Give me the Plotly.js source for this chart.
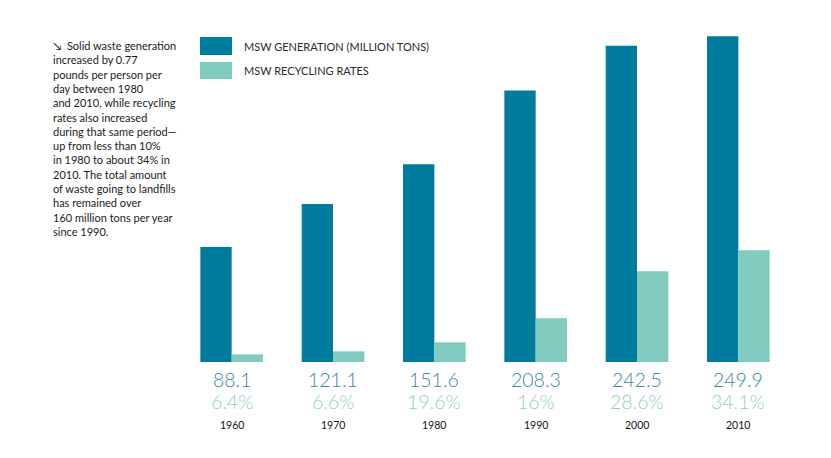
<!DOCTYPE html>
<html>
<head>
<meta charset="utf-8">
<script src="https://cdn.plot.ly/plotly-3.0.1.min.js"></script>
<style>html,body{margin:0;padding:0;background:#fff;}#chart{width:831px;height:458px;}</style>
</head>
<body>
<div id="chart"></div>
<script>
// ---- data ----
const years = ["1960", "1970", "1980", "1990", "2000", "2010"];
const generation = [88.1, 121.1, 151.6, 208.3, 242.5, 249.9];        // million tons
const recycled = [5.9, 8.2, 15.1, 33.5, 69.6, 85.7];                 // million tons (bar heights)
const generationLabels = ["88.1", "121.1", "151.6", "208.3", "242.5", "249.9"];
const rateLabels = ["6.4%", "6.6%", "19.6%", "16%", "28.6%", "34.1%"];
const seriesNames = ["MSW GENERATION (MILLION TONS)", "MSW RECYCLING RATES"];
const noteText = "↘  Solid waste generation<br>increased by 0.77<br>pounds per person per<br>day between 1980<br>and 2010, while recycling<br>rates also increased<br>during that same period—<br>up from less than 10%<br>in 1980 to about 34% in<br>2010. The total amount<br>of waste going to landfills<br>has remained over<br>160 million tons per year<br>since 1990.";

// ---- styles ----
const W = 831, H = 458;
const M = {l: 181, r: 42, t: 30, b: 96};
const C_GEN = "#007c9f", C_REC = "#80cbbe";
const C_GEN_TXT = "#3a86a8", C_REC_TXT = "#8fd0c5";
const px2x = p => (p - M.l) / (W - M.l - M.r);
const px2y = p => (H - M.b - p) / (H - M.t - M.b);

const traces = [
  {type: "bar", x: years, y: generation, name: seriesNames[0], marker: {color: C_GEN}, hoverinfo: "skip"},
  {type: "bar", x: years, y: recycled, name: seriesNames[1], marker: {color: C_REC}, hoverinfo: "skip"}
];

const ann = [];
const shapes = [];
years.forEach((yr, i) => {
  ann.push({x: i, y: 0, xref: "x", yref: "y", yanchor: "middle", yshift: -17, showarrow: false,
    text: generationLabels[i], font: {family: "Lato, sans-serif", size: 19.5, weight: 300, color: C_GEN_TXT}});
  ann.push({x: i, y: 0, xref: "x", yref: "y", yanchor: "middle", yshift: -39, showarrow: false,
    text: rateLabels[i], font: {family: "Lato, sans-serif", size: 19.5, weight: 300, color: C_REC_TXT}});
  ann.push({x: i, y: 0, xref: "x", yref: "y", yanchor: "middle", yshift: -62.5, showarrow: false,
    text: yr, font: {family: "Lato, sans-serif", size: 10.5, color: "#111"}});
});
// legend
const legendRows = [{name: seriesNames[0], color: C_GEN, top: 37, bot: 55}, {name: seriesNames[1], color: C_REC, top: 62, bot: 79}];
legendRows.forEach(r => {
  shapes.push({type: "rect", xref: "paper", yref: "paper", x0: px2x(200), x1: px2x(232), y0: px2y(r.bot), y1: px2y(r.top),
    fillcolor: r.color, line: {width: 0}});
  ann.push({xref: "paper", yref: "paper", x: px2x(242), y: px2y((r.top + r.bot) / 2), xanchor: "left", yanchor: "middle",
    showarrow: false, text: r.name, font: {family: "Lato, sans-serif", size: 11, color: "#2a2a2a"}});
});
// side note
ann.push({xref: "paper", yref: "paper", x: px2x(51), y: px2y(37), xanchor: "left", yanchor: "top", align: "left",
  showarrow: false, text: noteText, font: {family: "Lato, sans-serif", size: 11, color: "#1a1a1a"}});

const layout = {
  width: W, height: H, margin: M,
  paper_bgcolor: "#fff", plot_bgcolor: "#fff",
  barmode: "group", bargap: 0.382, bargroupgap: 0,
  showlegend: false,
  xaxis: {type: "category", range: [-0.5, 5.5], showticklabels: false, showgrid: false, zeroline: false, showline: false, ticks: ""},
  yaxis: {range: [0, (H - M.t - M.b) / 1.304], showticklabels: false, showgrid: false, zeroline: false, showline: false, ticks: ""},
  annotations: ann, shapes: shapes
};
Plotly.newPlot("chart", traces, layout, {displayModeBar: false, staticPlot: true});
</script>
</body>
</html>
